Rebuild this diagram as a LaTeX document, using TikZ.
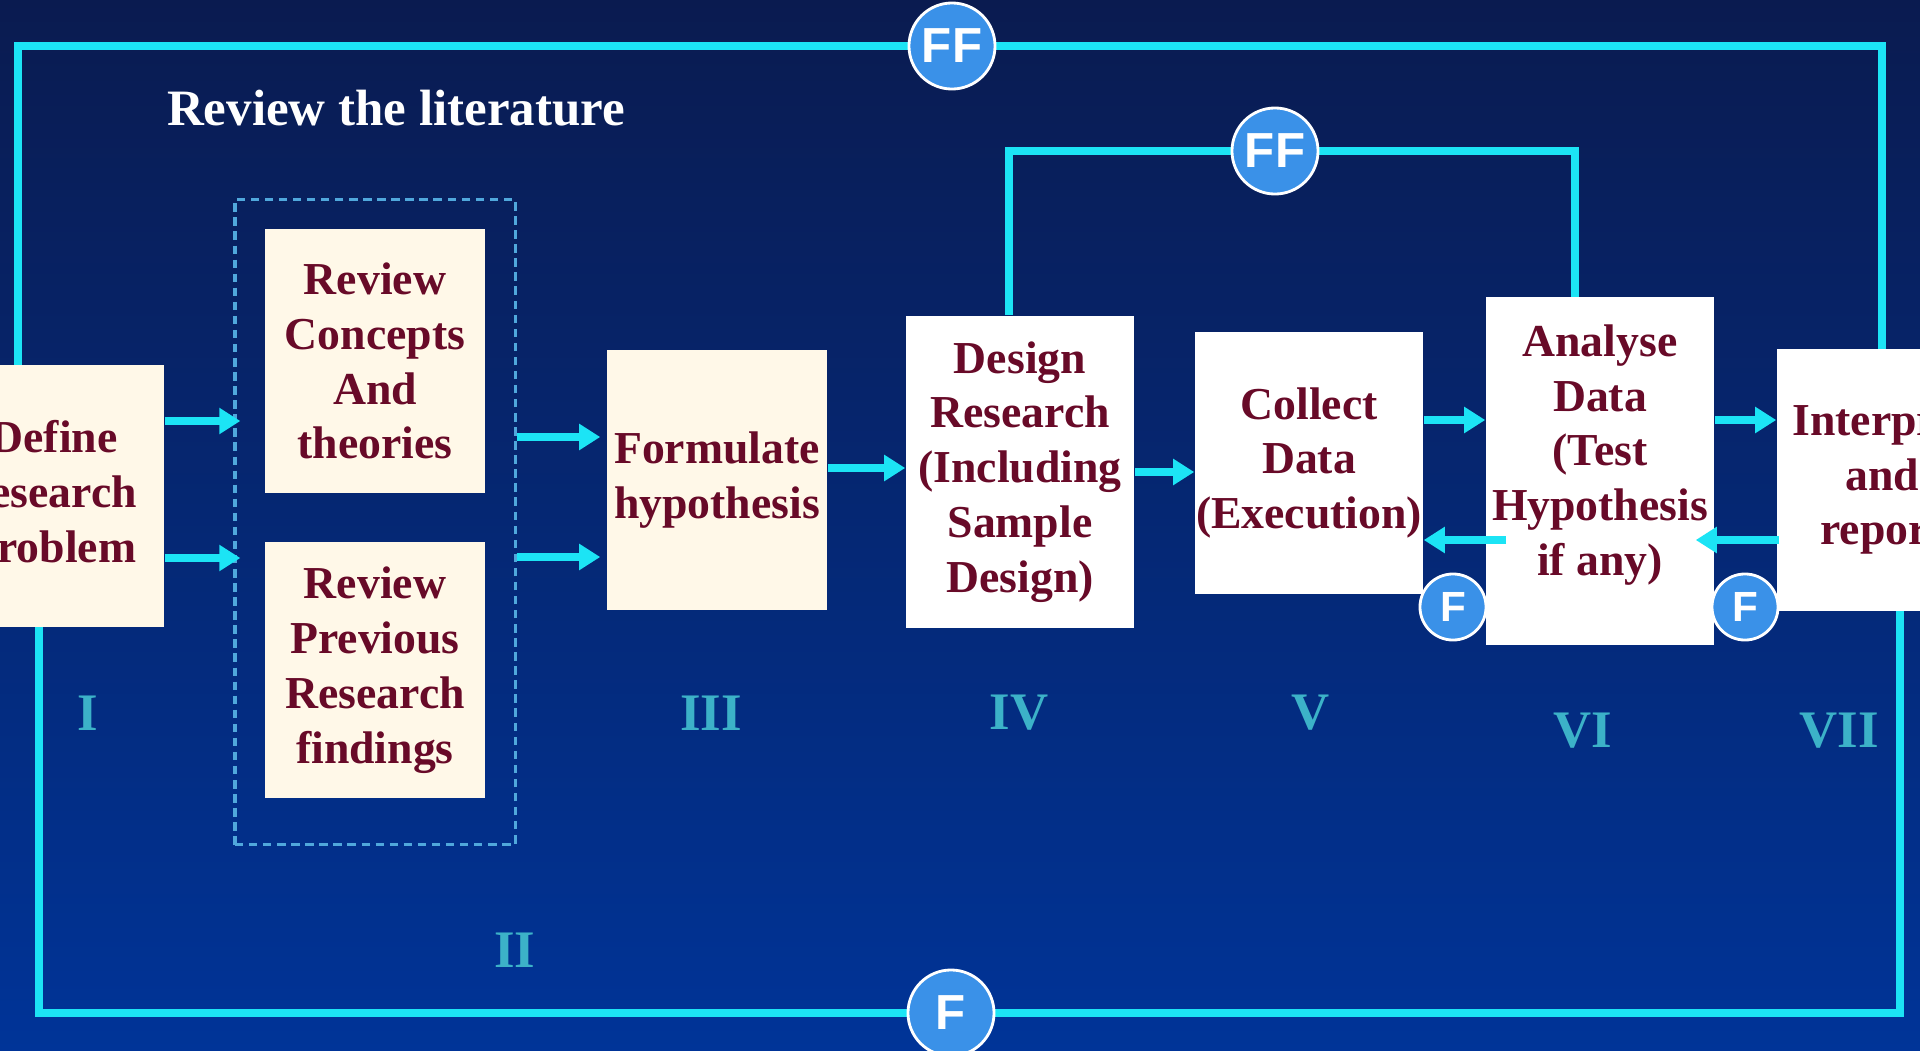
\documentclass[tikz,border=0pt]{standalone}
\usepackage{fontspec}
\setmainfont{Liberation Serif}
\setsansfont{Liberation Sans}
\usepackage{tikz}
\usetikzlibrary{arrows.meta,calc}

\definecolor{navytop}{RGB}{10,27,80}
\definecolor{navybot}{RGB}{0,52,152}
\definecolor{loopcyan}{RGB}{28,228,245}
\definecolor{boxcream}{RGB}{255,248,232}
\definecolor{boxtext}{RGB}{104,10,40}
\definecolor{numteal}{RGB}{60,178,200}
\definecolor{fblue}{RGB}{58,145,232}
\definecolor{dashblue}{RGB}{80,168,220}

\begin{document}
\begin{tikzpicture}[x=0.01cm, y=-0.01cm,
	stagebox/.style={draw=none, inner sep=0pt, align=center, text=boxtext, font=\bfseries\fontsize{13}{15.6}\selectfont},
	creambox/.style={stagebox, fill=boxcream},
	whitebox/.style={stagebox, fill=white},
	flow/.style={loopcyan, line width=2.3pt, -{Triangle[length=0.21cm, width=0.25cm]}},
	loopline/.style={loopcyan, line width=2pt},
	fbig/.style={circle, draw=white, line width=0.8pt, fill=fblue, text=white, inner sep=0pt, minimum size=0.86cm, font=\sffamily\bfseries\fontsize{14}{14}\selectfont},
	fsmall/.style={fbig, minimum size=0.66cm, font=\sffamily\bfseries\fontsize{12}{12}\selectfont},
	numeral/.style={text=numteal, font=\bfseries\fontsize{15}{15}\selectfont}]
	\useasboundingbox (0,0) rectangle (1920,1051);
	\clip (0,0) rectangle (1920,1051);
	\shade[top color=navytop, bottom color=navybot] (0,0) rectangle (1920,1051);
	%%
	\node[text=white, font=\bfseries\fontsize{14.5}{17}\selectfont] (revlit) at (396,108) {Review the literature};
	\node[draw=dashblue, line width=0.9pt, dash pattern=on 2.4pt off 1.6pt, inner sep=0pt, minimum width=2.8cm, minimum height=6.45cm] (lit) at (375,522) {};
	%%
	\node[creambox, minimum width=2.2cm, minimum height=2.61cm] (def) at (54,496) {Define\\research\\problem};
	\node[creambox, minimum width=2.2cm, minimum height=2.63cm] (conc) at (375,361) {Review\\Concepts\\And\\theories};
	\node[creambox, minimum width=2.2cm, minimum height=2.55cm] (prev) at (375,670) {Review\\Previous\\Research\\findings};
	\node[creambox, minimum width=2.2cm, minimum height=2.6cm] (form) at (717,480) {Formulate\\hypothesis};
	\node[whitebox, minimum width=2.28cm, minimum height=3.12cm] (des) at (1020,472) {Design\\Research\\(Including\\Sample\\Design)};
	\node[whitebox, minimum width=2.28cm, minimum height=2.62cm] (col) at (1309,463) {Collect\\Data\\(Execution)};
	\node[whitebox, minimum width=2.28cm, minimum height=3.47cm] (ana) at (1600,471) {Analyse\\Data\\(Test\\Hypothesis\\if any)\\[-0.13cm]};
	\node[whitebox, minimum width=2.1cm, minimum height=2.61cm] (int) at (1882,480) {Interpret\\and\\report};
	%%
	\coordinate (ffa) at (952,46);
	\coordinate (ffb) at (1275,151);
	\coordinate (fa) at (951,1013);
	\draw[loopline] (def.north -| 18,0) |- (ffa) -| (int.north);
	\draw[loopline] (des.north -| 1009,0) |- (ffb) -| (ana.north -| 1575,0);
	\draw[loopline] (def.south -| 39,0) |- (fa) -| (int.south -| 1900,0);
	%%
	\draw[flow] (def.east |- 0,421) -- ($(lit.west |- 0,421)+(7,0)$);
	\draw[flow] (def.east |- 0,558) -- ($(lit.west |- 0,558)+(7,0)$);
	\draw[flow] (lit.east |- 0,437) -- ($(form.west |- 0,437)+(-6,0)$);
	\draw[flow] (lit.east |- 0,557) -- ($(form.west |- 0,557)+(-6,0)$);
	\draw[flow] (form.east |- 0,468) -- (des.west |- 0,468);
	\draw[flow] (des.east |- 0,472) -- (col.west |- 0,472);
	\draw[flow] (col.east |- 0,420) -- (ana.west |- 0,420);
	\draw[flow] ($(ana.west |- 0,540)+(21,0)$) -- (col.east |- 0,540);
	\draw[flow] (ana.east |- 0,420) -- (int.west |- 0,420);
	\draw[flow] ($(int.west |- 0,540)+(3,0)$) -- ($(ana.east |- 0,540)+(-19,0)$);
	%%
	\node[fbig] (ff1) at (ffa) {FF};
	\node[fbig] (ff2) at (ffb) {FF};
	\node[fbig] (f1) at (fa) {F};
	\node[fsmall] (f2) at (1453,607) {F};
	\node[fsmall] (f3) at (1745,607) {F};
	%%
	\node[numeral] (n1) at (88,713) {I};
	\node[numeral] (n2) at (515,950) {II};
	\node[numeral] (n3) at (711,713) {III};
	\node[numeral] (n4) at (1019,713) {IV};
	\node[numeral] (n5) at (1311,713) {V};
	\node[numeral] (n6) at (1583,731) {VI};
	\node[numeral] (n7) at (1839,731) {VII};
\end{tikzpicture}
\end{document}
